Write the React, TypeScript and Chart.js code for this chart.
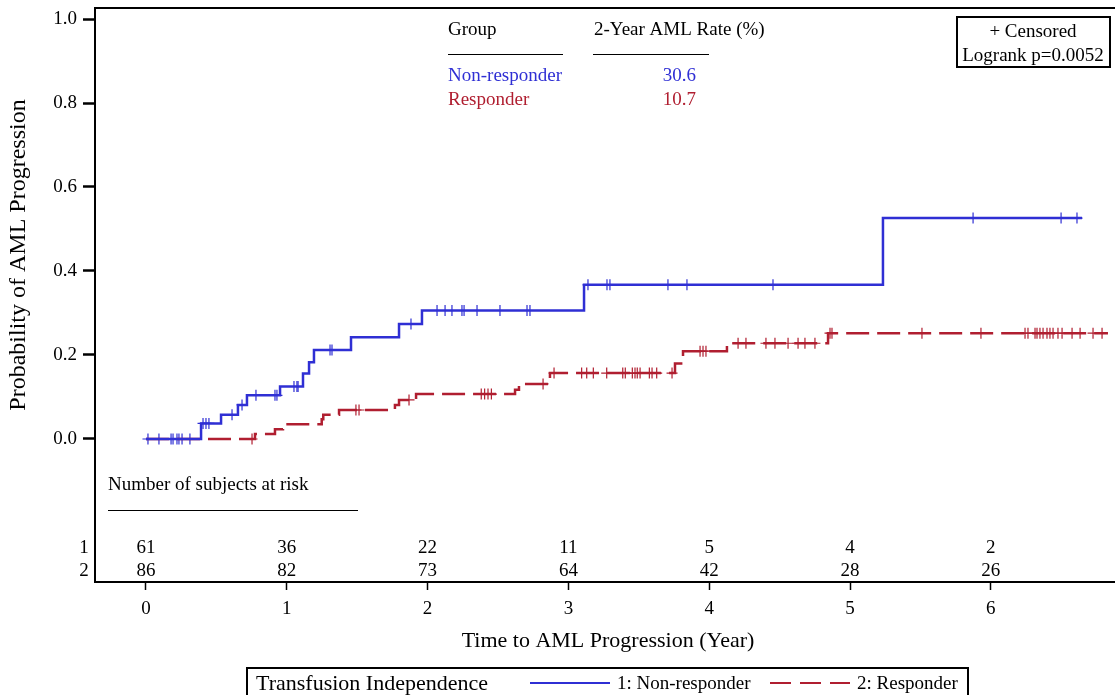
import React, { useEffect, useRef } from "react";
import { Chart, registerables } from "chart.js";

Chart.register(...registerables);

const FONT = "'Liberation Serif', 'Times New Roman', serif";
const BLUE = "#2f2fd4";
const RED = "#b01e30";

// Kaplan–Meier step points (time in years, cumulative probability of AML progression)
const nonResponderTimes = [0, 0.391, 0.533, 0.653, 0.717, 0.952, 1.115, 1.158, 1.193, 1.456, 1.797, 1.96, 3.111, 5.234, 6.648];
const nonResponderProb = [0, 0.037, 0.058, 0.081, 0.104, 0.125, 0.156, 0.183, 0.212, 0.242, 0.274, 0.306, 0.367, 0.526, 0.526];

const responderTimes = [0, 0.774, 0.916, 0.973, 1.248, 1.259, 1.371, 1.768, 1.797, 1.918, 2.621, 2.649, 2.855, 2.869, 3.757, 3.814, 4.126, 4.844, 6.832];
const responderProb = [0, 0.012, 0.023, 0.035, 0.047, 0.058, 0.069, 0.081, 0.093, 0.107, 0.117, 0.131, 0.144, 0.157, 0.18, 0.209, 0.228, 0.252, 0.252];

// Censoring times
const nonResponderCensored = [
  0.014, 0.092, 0.178, 0.192, 0.22, 0.234, 0.256, 0.312, 0.405, 0.426, 0.447, 0.611, 0.682, 0.781, 0.916, 0.93,
  1.051, 1.072, 1.08, 1.307, 1.321, 1.882, 2.067, 2.124, 2.173, 2.244, 2.259, 2.351, 2.514, 2.706, 2.727,
  3.139, 3.274, 3.295, 3.707, 3.842, 4.453, 5.874, 6.499, 6.612,
];
const responderCensored = [
  0.753, 1.491, 1.513, 1.868, 2.381, 2.405, 2.429, 2.453, 2.82, 2.898, 3.094, 3.13, 3.177, 3.272, 3.386, 3.404,
  3.454, 3.473, 3.489, 3.509, 3.575, 3.594, 3.627, 3.736, 3.935, 3.956, 3.977, 4.205, 4.261, 4.403, 4.467, 4.56,
  4.631, 4.68, 4.751, 4.858, 4.872, 5.511, 5.93, 6.243, 6.264, 6.314, 6.328, 6.349, 6.371, 6.399, 6.42, 6.442,
  6.477, 6.506, 6.577, 6.634, 6.726, 6.79,
];

// Number at risk at each yearly tick
const atRiskTimes = [0, 1, 2, 3, 4, 5, 6];
const atRiskNonResponder = [61, 36, 22, 11, 5, 4, 2];
const atRiskResponder = [86, 82, 73, 64, 42, 28, 26];

const xTicks = [0, 1, 2, 3, 4, 5, 6];
const yTicks = [0, 0.2, 0.4, 0.6, 0.8, 1.0];

const groupNames = ["Non-responder", "Responder"];
const twoYearRates = ["30.6", "10.7"];

function curveAt(times: number[], probs: number[], t: number): number {
  let v = probs[0];
  for (let i = 0; i < times.length; i++) {
    if (times[i] <= t) v = probs[i];
  }
  return v;
}

const overlay = {
  id: "kmOverlay",
  afterDraw(chart: any) {
    const { ctx, chartArea, scales } = chart;
    const xs = scales.x;
    ctx.save();

    // frame top edge
    ctx.strokeStyle = "#000";
    ctx.lineWidth = 2;
    ctx.beginPath();
    ctx.moveTo(chartArea.left - 1, chartArea.top);
    ctx.lineTo(chartArea.right, chartArea.top);
    ctx.stroke();

    // y axis title
    ctx.save();
    ctx.translate(19, 255);
    ctx.rotate(-Math.PI / 2);
    ctx.font = `24px ${FONT}`;
    ctx.fillStyle = "#000";
    ctx.textAlign = "center";
    ctx.textBaseline = "middle";
    ctx.fillText("Probability of AML Progression", 0, 0);
    ctx.restore();

    // 2-year rate table
    ctx.font = `19px ${FONT}`;
    ctx.textBaseline = "middle";
    ctx.textAlign = "left";
    ctx.fillStyle = "#000";
    ctx.fillText("Group", 448, 30);
    ctx.fillText("2-Year AML Rate (%)", 594, 30);
    ctx.lineWidth = 1;
    ctx.beginPath();
    ctx.moveTo(448, 54.5);
    ctx.lineTo(563, 54.5);
    ctx.moveTo(593, 54.5);
    ctx.lineTo(709, 54.5);
    ctx.stroke();
    const rowColors = [BLUE, RED];
    groupNames.forEach((g, i) => {
      const y = 76 + i * 24;
      ctx.fillStyle = rowColors[i];
      ctx.textAlign = "left";
      ctx.fillText(g, 448, y);
      ctx.textAlign = "right";
      ctx.fillText(twoYearRates[i], 696, y);
    });

    // censor / logrank box
    ctx.strokeStyle = "#000";
    ctx.lineWidth = 2;
    ctx.strokeRect(957, 17, 153, 50);
    ctx.fillStyle = "#000";
    ctx.textAlign = "center";
    ctx.fillText("+ Censored", 1033, 32);
    ctx.fillText("Logrank p=0.0052", 1033, 56);

    // at-risk table
    ctx.textAlign = "left";
    ctx.fillText("Number of subjects at risk", 108, 485);
    ctx.lineWidth = 1;
    ctx.beginPath();
    ctx.moveTo(108, 510.5);
    ctx.lineTo(358, 510.5);
    ctx.stroke();
    ctx.textAlign = "center";
    ctx.fillText("1", 84, 548);
    ctx.fillText("2", 84, 571);
    atRiskTimes.forEach((t, i) => {
      const px = xs.getPixelForValue(t);
      ctx.fillText(String(atRiskNonResponder[i]), px, 548);
      ctx.fillText(String(atRiskResponder[i]), px, 571);
    });

    // x axis title
    ctx.font = `22px ${FONT}`;
    ctx.fillText("Time to AML Progression (Year)", 608, 641);

    // legend box
    ctx.lineWidth = 2;
    ctx.strokeRect(247, 668, 721, 40);
    ctx.textAlign = "left";
    ctx.fillText("Transfusion Independence", 256, 684);
    ctx.font = `19px ${FONT}`;
    ctx.strokeStyle = BLUE;
    ctx.beginPath();
    ctx.moveTo(530, 683);
    ctx.lineTo(610, 683);
    ctx.stroke();
    ctx.fillText("1: Non-responder", 617, 684);
    ctx.strokeStyle = RED;
    ctx.setLineDash([21, 9]);
    ctx.beginPath();
    ctx.moveTo(770, 683);
    ctx.lineTo(850, 683);
    ctx.stroke();
    ctx.setLineDash([]);
    ctx.fillText("2: Responder", 857, 684);

    ctx.restore();
  },
};

export default function App() {
  const canvasRef = useRef<HTMLCanvasElement | null>(null);

  useEffect(() => {
    if (!canvasRef.current) return;
    const toXY = (ts: number[], ps: number[]) => ts.map((t, i) => ({ x: t, y: ps[i] }));
    const censorXY = (cs: number[], ts: number[], ps: number[]) => cs.map((t) => ({ x: t, y: curveAt(ts, ps, t) }));

    const chart = new Chart(canvasRef.current, {
      type: "line",
      data: {
        datasets: [
          {
            label: "1: Non-responder",
            data: toXY(nonResponderTimes, nonResponderProb),
            borderColor: BLUE,
            borderWidth: 2.5,
            stepped: "before",
            pointRadius: 0,
            fill: false,
          },
          {
            label: "2: Responder",
            data: toXY(responderTimes, responderProb),
            borderColor: RED,
            borderWidth: 2.5,
            borderDash: [23, 8],
            stepped: "before",
            pointRadius: 0,
            fill: false,
          },
          {
            label: "Censored 1",
            data: censorXY(nonResponderCensored, nonResponderTimes, nonResponderProb),
            showLine: false,
            pointStyle: "cross",
            pointRadius: 5.5,
            pointBorderWidth: 1.2,
            pointBorderColor: BLUE,
            borderColor: BLUE,
          },
          {
            label: "Censored 2",
            data: censorXY(responderCensored, responderTimes, responderProb),
            showLine: false,
            pointStyle: "cross",
            pointRadius: 5.5,
            pointBorderWidth: 1.2,
            pointBorderColor: RED,
            borderColor: RED,
          },
        ],
      },
      options: {
        animation: false,
        responsive: false,
        devicePixelRatio: 1,
        events: [],
        layout: { autoPadding: false, padding: { top: 8, left: 0, right: 0, bottom: 0 } },
        plugins: { legend: { display: false }, tooltip: { enabled: false }, title: { display: false } },
        scales: {
          x: {
            type: "linear",
            min: -0.3622,
            max: 6.882,
            afterFit: (s: any) => {
              s.height = 113;
              s.paddingLeft = 0;
              s.paddingRight = 0;
            },
            afterBuildTicks: (s: any) => {
              s.ticks = xTicks.map((v) => ({ value: v }));
            },
            ticks: {
              color: "#000",
              font: { family: FONT, size: 19 },
              padding: 8,
              maxRotation: 0,
              callback: (v: any) => String(v),
            },
            grid: {
              display: true,
              drawOnChartArea: false,
              drawTicks: true,
              tickLength: 8,
              tickWidth: 1.5,
              tickColor: "#000",
            },
            border: { display: true, color: "#000", width: 2 },
          },
          y: {
            type: "linear",
            min: -0.3405,
            max: 1.0262,
            afterFit: (s: any) => {
              s.width = 95;
              s.paddingTop = 0;
              s.paddingBottom = 0;
            },
            afterBuildTicks: (s: any) => {
              s.ticks = yTicks.map((v) => ({ value: v }));
            },
            ticks: {
              color: "#000",
              font: { family: FONT, size: 19 },
              padding: 6,
              callback: (v: any) => Number(v).toFixed(1),
            },
            grid: {
              display: true,
              drawOnChartArea: false,
              drawTicks: true,
              tickLength: 12,
              tickWidth: 2.5,
              tickColor: "#000",
            },
            border: { display: true, color: "#000", width: 2 },
          },
        },
      },
      plugins: [overlay],
    } as any);

    return () => chart.destroy();
  }, []);

  return (
    <div style={{ position: "absolute", left: 0, top: 0, width: 1115, height: 695, background: "#fff" }}>
      <canvas ref={canvasRef} width={1115} height={695} style={{ display: "block" }} />
    </div>
  );
}
